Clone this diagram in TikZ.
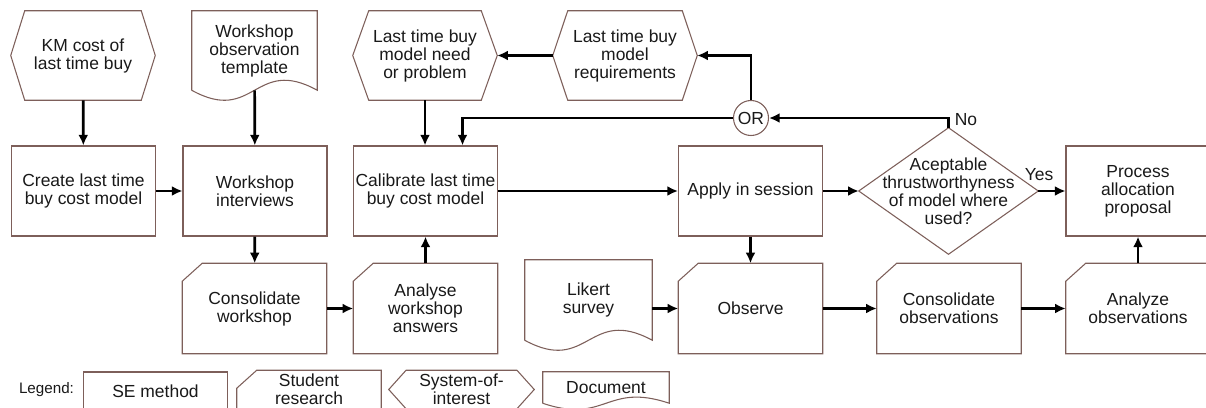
\documentclass[tikz,border=0pt]{standalone}
\usepackage{fontspec}
\setmainfont{Liberation Sans}
\usepackage{tikz}
\usetikzlibrary{
    arrows.meta,
    shapes,
    calc,
    positioning
}
\definecolor{boxc}{RGB}{125,95,90}
\tikzset{shp/.style={draw=boxc, line width=0.8pt}}
\tikzset{txt/.style={inner sep=1pt, align=center, text=black!90, font=\fontsize{13.1pt}{13.5pt}\selectfont}}
\tikzset{sebox/.style={txt, shp, rectangle, minimum width=108pt, minimum height=67.5pt}}
\tikzset{resbox/.style={txt, rectangle, minimum width=108pt, minimum height=67.5pt,
    append after command={\pgfextra{\draw[shp] ([yshift=-13.5pt]\tikzlastnode.north west) -- ([xshift=15pt]\tikzlastnode.north west)
    -- (\tikzlastnode.north east) -- (\tikzlastnode.south east) -- (\tikzlastnode.south west) -- cycle;}}}}
\tikzset{soi/.style={txt, rectangle, append after command={\pgfextra{\draw[shp] (\tikzlastnode.west) -- ([xshift=#1]\tikzlastnode.north west)
    -- ([xshift=-#1]\tikzlastnode.north east) -- (\tikzlastnode.east) -- ([xshift=-#1]\tikzlastnode.south east)
    -- ([xshift=#1]\tikzlastnode.south west) -- cycle;}}}}
\tikzset{docu/.style={txt, rectangle, append after command={\pgfextra{\draw[shp] (\tikzlastnode.south west) -- (\tikzlastnode.north west)
    -- (\tikzlastnode.north east) -- (\tikzlastnode.south east)
    .. controls ([yshift=#1]\tikzlastnode.south) and ([yshift=-#1]\tikzlastnode.south) .. (\tikzlastnode.south west);}}}}
\tikzset{decis/.style={txt, rectangle, minimum width=134.25pt, minimum height=94.5pt,
    append after command={\pgfextra{\draw[shp] (\tikzlastnode.west) -- (\tikzlastnode.north) -- (\tikzlastnode.east)
    -- (\tikzlastnode.south) -- cycle;}}}}
\tikzset{arr/.style={-{Latex[length=8pt,width=7.5pt]}, line width=2pt}}

\begin{document}
\begin{tikzpicture}[x=0.75pt, y=-0.75pt]
    \useasboundingbox (0, 0) rectangle (1206, 407);
    \clip (0, 0) rectangle (1206, 407);

    % top row
    \node[soi=10.5pt, minimum width=108pt, minimum height=66.75pt] (km) at (83, 55.5) {KM cost of\\last time buy};
    \node[docu=26pt, minimum width=93.75pt, minimum height=59.25pt] (tmpl) at (254.5, 50.5) {Workshop\\observation\\template};
    \node[soi=12pt, minimum width=108pt, minimum height=66.75pt] (need) at (425, 55.5) {Last time buy\\model need\\or problem};
    \node[soi=11.25pt, minimum width=108pt, minimum height=66.75pt] (req) at (625, 55.5) {Last time buy\\model\\requirements};
    \node[txt, shp, circle, minimum size=26.25pt, inner sep=0pt] (or) at (751, 118) {OR};

    % middle row
    \node[sebox] (create) at (83.5, 191) {Create last time\\buy cost model};
    \node[sebox] (wsi) at (255, 191) {Workshop\\interviews};
    \node[sebox] (cal) at (425.5, 191) {Calibrate last time\\buy cost model};
    \node[sebox] (apply) at (750.5, 191) {Apply in session};
    \node[decis] (dec) at (948.5, 191) {Aceptable\\thrustworthyness\\of model where\\used?};
    \node[sebox] (proc) at (1138, 191) {Process\\allocation\\proposal};

    % bottom row
    \node[resbox] (cons) at (254.5, 308.5) {Consolidate\\workshop};
    \node[resbox] (ana) at (425.5, 308.5) {Analyse\\workshop\\answers};
    \node[docu=26pt, minimum width=95.25pt, minimum height=60pt] (lik) at (588.5, 300) {Likert\\survey};
    \node[resbox] (obs) at (750.5, 308.5) {Observe};
    \node[resbox] (cobs) at (949, 308.5) {Consolidate\\observations};
    \node[resbox] (aobs) at (1138, 308.5) {Analyze\\observations};

    \node[txt] (no) at (966, 120) {No};
    \node[txt] (yes) at (1039, 175) {Yes};

    \draw
    (km) edge[arr] (create)
    (tmpl) edge[arr] (wsi)
    (create) edge[arr] (wsi)
    (wsi) edge[arr] (cons)
    (cons) edge[arr] (ana)
    (ana) edge[arr] (cal)
    (need) edge[arr] (cal.north -| need)
    (req) edge[arr] (need)
    (cal) edge[arr] (apply)
    (apply) edge[arr] (dec)
    (dec) edge[arr] (proc)
    (apply) edge[arr] (obs)
    (lik.east |- obs.west) edge[arr] (obs)
    (obs) edge[arr] (cobs)
    (cobs) edge[arr] (aobs)
    (aobs) edge[arr] (proc);

    \draw[arr] (or.north) |- (req.east);
    \draw[arr] (or.west) -| ([xshift=27.75pt]cal.north);
    \draw[arr] (dec.north) |- (or.east);

    % legend
    \node[txt, font=\fontsize{11.4pt}{12pt}\selectfont] (leg) at (46.5, 390) {Legend:};
    \node[sebox, minimum height=28.5pt] (lse) at (155.5, 391) {SE method};
    \node[resbox, minimum height=28.5pt] (lres) at (309, 389.5) {Student\\research};
    \node[soi=13pt, minimum width=108.75pt, minimum height=28.5pt] (lsoi) at (461.5, 389.5) {System-of-\\interest};
    \node[docu=16pt, minimum width=94.5pt, minimum height=23.25pt] (ldoc) at (606, 387.5) {Document};
\end{tikzpicture}
\end{document}
